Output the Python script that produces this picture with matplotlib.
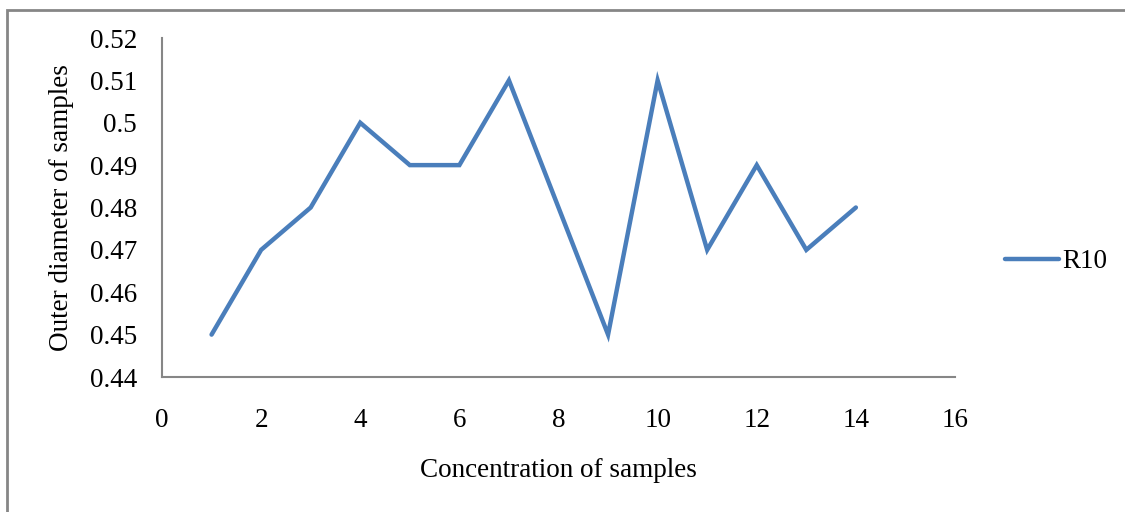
import matplotlib
matplotlib.use("Agg")
import matplotlib.pyplot as plt
from matplotlib.patches import Rectangle

x_values = [1, 2, 3, 4, 5, 6, 7, 8, 9, 10, 11, 12, 13, 14]
r10 = [0.45, 0.47, 0.48, 0.50, 0.49, 0.49, 0.51, 0.48, 0.45, 0.51, 0.47, 0.49, 0.47, 0.48]
x_ticks = [0, 2, 4, 6, 8, 10, 12, 14, 16]
y_ticks = [0.44, 0.45, 0.46, 0.47, 0.48, 0.49, 0.50, 0.51, 0.52]
y_labels = ["0.44", "0.45", "0.46", "0.47", "0.48", "0.49", "0.5", "0.51", "0.52"]

plt.rcParams['font.family'] = ['Liberation Serif', 'DejaVu Serif']
FS = 19.5

W, H = 1125, 512
fig = plt.figure(figsize=(W / 100, H / 100), dpi=100)
# outer chart border (left and top visible)
fig.patches.append(Rectangle((7 / W, -0.1), 1.2, (H - 10) / H + 0.1, transform=fig.transFigure,
                             fill=False, edgecolor='#868686', linewidth=2))

left, right, top, bottom = 162, 955, 38, 377
ax = fig.add_axes([left / W, 1 - bottom / H, (right - left) / W, (bottom - top) / H])
ax.plot(x_values, r10, color='#4a7ebb', linewidth=3.2, solid_capstyle='round', solid_joinstyle='miter', label='R10')
ax.set_xlim(0, 16)
ax.set_ylim(0.44, 0.52)
ax.set_xticks(x_ticks)
ax.set_yticks(y_ticks)
ax.set_yticklabels(y_labels)
ax.tick_params(length=0, labelsize=FS, colors='black')
ax.tick_params(axis='y', pad=18)
ax.tick_params(axis='x', pad=22)
for s in ['top', 'right']:
    ax.spines[s].set_visible(False)
for s in ['left', 'bottom']:
    ax.spines[s].set_color('#868686')
    ax.spines[s].set_linewidth(1.5)
ax.set_xlabel('Concentration of samples', fontsize=FS, labelpad=18)
ax.set_ylabel('Outer diameter of samples', fontsize=FS, labelpad=11)

leg = fig.legend(loc='center left', bbox_to_anchor=(1005 / W, 1 - 262 / H), frameon=False,
                 fontsize=FS, handlelength=2.0, handletextpad=0.1, borderpad=0, borderaxespad=0)

fig.savefig('out.png', dpi=100)
